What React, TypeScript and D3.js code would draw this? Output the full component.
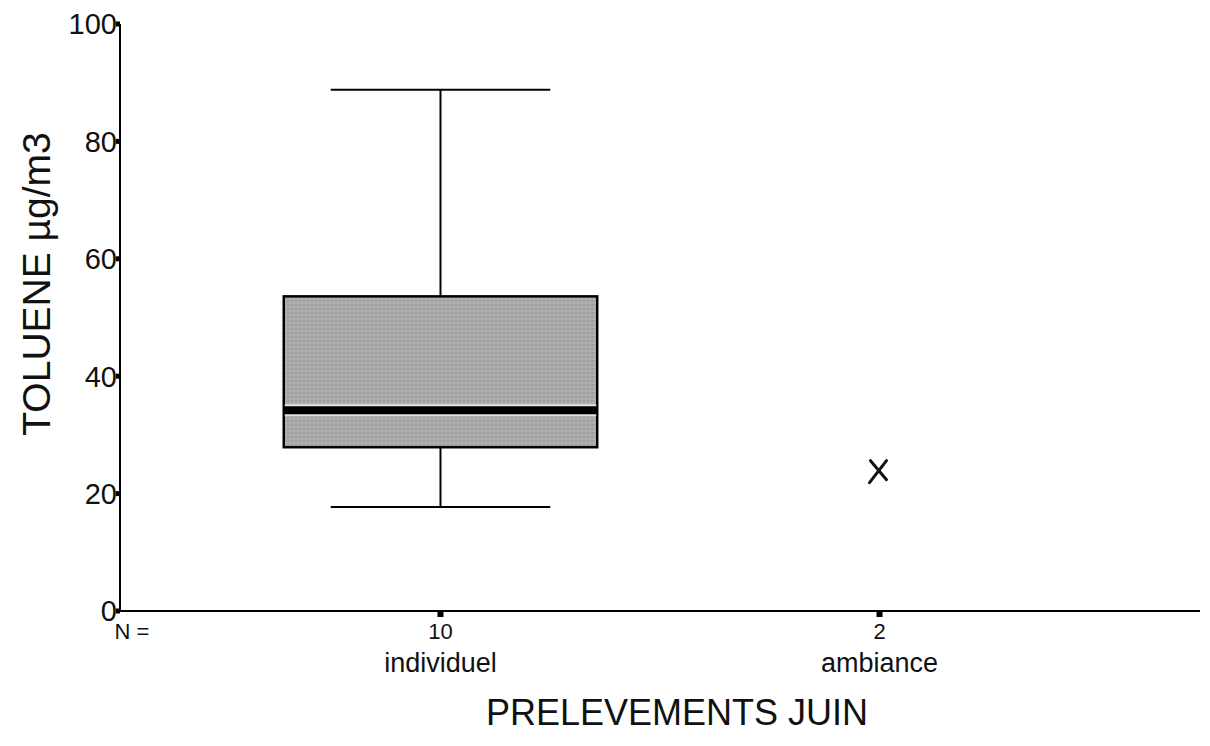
import React from 'react';
import * as d3 from 'd3';

// categories and counts shown under the axis
const categories = ['individuel', 'ambiance'];
const counts = [10, 2];

// box stats for "individuel"
const boxLow = [17.7];
const boxQ1 = [27.9];
const boxMedian = [34.2];
const boxQ3 = [53.6];
const boxHigh = [88.8];

// single marked value for "ambiance"
const markerValues = [23.9];

const yTicks = [0, 20, 40, 60, 80, 100];

export default function App() {
  const width = 1210;
  const height = 746;
  const left = 120;
  const right = 1200;
  const top = 24;
  const bottom = 611;

  const y = d3.scaleLinear().domain([0, 100]).range([bottom, top]);
  const x = d3.scalePoint<string>().domain(categories).range([left, right]).padding(0.73);
  const step = x.step();
  const boxW = step * 0.714;
  const capW = step * 0.5;
  const font = '"Liberation Sans", Arial, sans-serif';

  const cx0 = x(categories[0]) as number;
  const cx1 = x(categories[1]) as number;
  const my = y(markerValues[0]);

  return (
    <div style={{ position: 'absolute', left: 0, top: 0, width, height, background: '#fff' }}>
      <svg width={width} height={height} style={{ display: 'block', fontFamily: font }}>
        <defs>
          <pattern id="grain" width="4" height="4" patternUnits="userSpaceOnUse">
            <rect width="4" height="4" fill="#aaaaaa" />
            <rect x="0" y="0" width="1" height="1" fill="#929292" />
            <rect x="2" y="2" width="1" height="1" fill="#bcbcbc" />
            <rect x="3" y="1" width="1" height="1" fill="#9a9a9a" />
            <rect x="1" y="3" width="1" height="1" fill="#b6b6b6" />
          </pattern>
        </defs>

        {/* axes */}
        <line x1={left} x2={left} y1={top} y2={bottom} stroke="#000" strokeWidth={2} />
        <line x1={left} x2={right} y1={bottom} y2={bottom} stroke="#000" strokeWidth={2} />

        {yTicks.map(t => (
          <g key={t}>
            <rect x={left - 4} y={y(t) - 2.5} width={4} height={5} fill="#000" />
            <text x={left - 3} y={y(t)} dy="0.36em" textAnchor="end" fontSize={29} fill="#111">{t}</text>
          </g>
        ))}

        {categories.map((c, i) => {
          const cx = x(c) as number;
          return (
            <g key={c}>
              <rect x={cx - 3} y={bottom} width={6} height={6} fill="#000" />
              <text x={cx} y={639} textAnchor="middle" fontSize={22} fill="#111">{counts[i]}</text>
              <text x={cx} y={672} textAnchor="middle" fontSize={27} fill="#111">{c}</text>
            </g>
          );
        })}
        <text x={132} y={639} textAnchor="middle" fontSize={22} fill="#111">N =</text>

        {/* whiskers */}
        <line x1={cx0} x2={cx0} y1={y(boxHigh[0])} y2={y(boxQ3[0])} stroke="#000" strokeWidth={2} />
        <line x1={cx0} x2={cx0} y1={y(boxQ1[0])} y2={y(boxLow[0])} stroke="#000" strokeWidth={2} />
        <line x1={cx0 - capW / 2} x2={cx0 + capW / 2} y1={y(boxHigh[0])} y2={y(boxHigh[0])} stroke="#000" strokeWidth={2} />
        <line x1={cx0 - capW / 2} x2={cx0 + capW / 2} y1={y(boxLow[0])} y2={y(boxLow[0])} stroke="#000" strokeWidth={2} />

        {/* box */}
        <rect
          x={cx0 - boxW / 2}
          y={y(boxQ3[0])}
          width={boxW}
          height={y(boxQ1[0]) - y(boxQ3[0])}
          fill="url(#grain)"
          stroke="#000"
          strokeWidth={2.5}
        />
        <line x1={cx0 - boxW / 2 + 1} x2={cx0 + boxW / 2 - 1} y1={y(boxMedian[0])} y2={y(boxMedian[0])} stroke="#e2e2e2" strokeWidth={12} />
        <line x1={cx0 - boxW / 2} x2={cx0 + boxW / 2} y1={y(boxMedian[0])} y2={y(boxMedian[0])} stroke="#000" strokeWidth={8} />

        {/* ambiance marker */}
        <g stroke="#111" strokeWidth={3} strokeLinecap="round">
          <line x1={cx1 - 9} x2={cx1 + 7} y1={my - 10} y2={my + 9} />
          <line x1={cx1 + 7} x2={cx1 - 10} y1={my - 10} y2={my + 12} />
        </g>

        {/* axis titles */}
        <text
          transform={`translate(50, 284) rotate(-90)`}
          textAnchor="middle"
          fontSize={39}
          fill="#111"
        >
          TOLUENE µg/m3
        </text>
        <text x={677} y={725} textAnchor="middle" fontSize={36} fill="#111">PRELEVEMENTS JUIN</text>
      </svg>
    </div>
  );
}
